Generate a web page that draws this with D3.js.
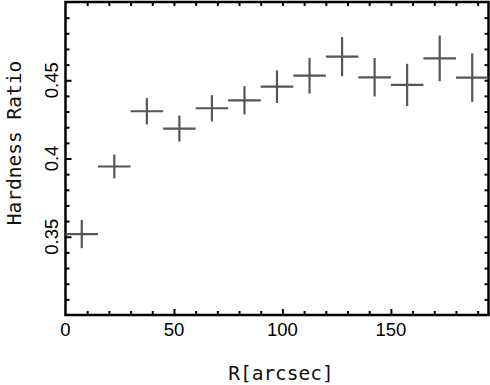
<!DOCTYPE html>
<html><head><meta charset="utf-8">
<script src="https://cdn.jsdelivr.net/npm/d3@7"></script>
<style>body{margin:0;background:#fff}svg{display:block}</style>
</head><body>
<script>
const radius = [7.5,22.5,37.5,52.5,67.5,82.5,97.5,112.5,127.5,142.5,157.5,172.5,187.5];
const radiusErr = [7.5,7.5,7.5,7.5,7.5,7.5,7.5,7.5,7.5,7.5,7.5,7.5,7.5];
const hardness = [0.3517,0.3949,0.4302,0.4191,0.4321,0.4372,0.4459,0.4529,0.4651,0.4519,0.4470,0.4640,0.4517];
const hardnessErr = [0.0090,0.0076,0.0084,0.0083,0.0084,0.0090,0.0104,0.0114,0.0125,0.0123,0.0135,0.0146,0.0155];
const xTickLabels = [0,50,100,150];
const yTickLabels = [0.35,0.4,0.45];
const xLabel = "R[arcsec]";
const yLabel = "Hardness Ratio";

const W=490,H=385;
const L=65.5,R=488.5,T=2,B=315;
const svg=d3.select("body").append("svg").attr("width",W).attr("height",H);
const x=d3.scaleLinear().domain([0,195]).range([L,R]);
const y=d3.scaleLinear().domain([0.3,0.5]).range([B,T]);

const xMinor=d3.range(0,196,10);
const yMinor=d3.range(0.30,0.5001,0.01).map(v=>+v.toFixed(2));

function axis(gen,ticks,transform,len){
  const g=svg.append("g").attr("transform",transform)
    .call(gen.tickValues(ticks).tickSize(len).tickFormat(""));
  g.select(".domain").remove();
  g.selectAll("line").attr("stroke","#000").attr("stroke-width",2);
  return g;
}
const isMajX=v=>xTickLabels.includes(v);
const isMajY=v=>yTickLabels.some(t=>Math.abs(t-v)<1e-6);
axis(d3.axisTop(x),xMinor.filter(v=>!isMajX(v)&&v>0),`translate(0,${B})`,4);
axis(d3.axisTop(x),xTickLabels.filter(v=>v>0),`translate(0,${B})`,6);
axis(d3.axisBottom(x),xMinor.filter(v=>v>0),`translate(0,${T})`,4);
axis(d3.axisRight(y),yMinor.filter(v=>!isMajY(v)&&v>0.3&&v<0.5),`translate(${L},0)`,4);
axis(d3.axisRight(y),yTickLabels,`translate(${L},0)`,6);
axis(d3.axisLeft(y),yMinor.filter(v=>v>0.3&&v<0.5),`translate(${R},0)`,4);

svg.append("rect").attr("x",L).attr("y",T).attr("width",R-L).attr("height",B-T)
  .attr("fill","none").attr("stroke","#000").attr("stroke-width",2.5);

svg.append("g").selectAll("text").data(xTickLabels).join("text")
  .attr("x",d=>x(d)).attr("y",336).attr("text-anchor","middle")
  .attr("font-family","Liberation Sans, Arial, sans-serif").attr("font-size",18.5)
  .text(d=>d);
svg.append("g").selectAll("text").data(yTickLabels).join("text")
  .attr("transform",d=>`translate(58,${y(d)}) rotate(-90)`).attr("text-anchor","middle")
  .attr("font-family","Liberation Sans, Arial, sans-serif").attr("font-size",18.5)
  .text(d=>d);

svg.append("text").attr("x",281).attr("y",380).attr("text-anchor","middle")
  .attr("font-family","DejaVu Sans Mono, monospace").attr("font-size",19.5)
  .attr("fill","#111").text(xLabel);
svg.append("text").attr("transform",`translate(21,${143}) rotate(-90)`).attr("text-anchor","middle")
  .attr("font-family","DejaVu Sans Mono, monospace").attr("font-size",19.5)
  .attr("fill","#111").text(yLabel);

const pts=radius.map((r,i)=>({r,xe:radiusErr[i],h:hardness[i],he:hardnessErr[i]}));
const g=svg.append("g").attr("stroke","#555").attr("stroke-width",2.2);
g.selectAll("line.h").data(pts).join("line").attr("class","h")
  .attr("x1",d=>x(d.r-d.xe)).attr("x2",d=>x(Math.min(d.r+d.xe,195)))
  .attr("y1",d=>y(d.h)).attr("y2",d=>y(d.h));
g.selectAll("line.v").data(pts).join("line").attr("class","v")
  .attr("x1",d=>x(d.r)).attr("x2",d=>x(d.r))
  .attr("y1",d=>y(d.h-d.he)).attr("y2",d=>y(d.h+d.he));
</script>
</body></html>
